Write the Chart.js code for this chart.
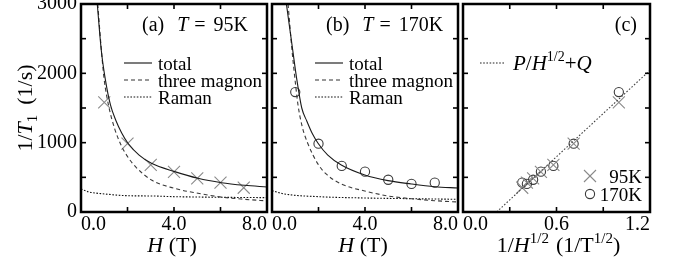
<!DOCTYPE html>
<html>
<head>
<meta charset="utf-8">
<script src="https://cdn.jsdelivr.net/npm/chart.js@4.4.1/dist/chart.umd.min.js"></script>
<style>
html,body{margin:0;padding:0;background:#fff;}
#wrap{position:relative;width:689px;height:267px;background:#fff;overflow:hidden;}
canvas{position:absolute;top:0;}
</style>
</head>
<body>
<div id="wrap">
<canvas id="cA" width="270" height="267" style="left:0px"></canvas>
<canvas id="cB" width="192" height="267" style="left:268px"></canvas>
<canvas id="cC" width="229" height="267" style="left:460px"></canvas>
</div>
<script>
// ---------------- data ----------------
const fieldH = [1, 2, 3, 4, 5, 6, 7];                       // T
const invSqrtH = [1.00, 0.71, 0.58, 0.50, 0.45, 0.41, 0.38]; // 1/T^1/2
const rate95 = [1580, 985, 680, 580, 485, 425, 350];         // 1/s
const rate170 = [1730, 985, 665, 582, 465, 405, 423];        // 1/s

const totalA_H = [0.70, 0.87, 1.05, 1.27, 1.5, 1.75, 2.02, 2.5, 3.03, 4.03, 5.03, 6.04, 7.04, 8.0];
const totalA_v = [3000, 2340, 1905, 1540, 1320, 1140, 991, 820, 702, 582, 486, 423, 385, 360];
const magA_H = [0.72, 0.86, 0.99, 1.19, 1.45, 1.73, 2.02, 2.38, 3.03, 4.03, 5.03, 6.04, 7.04, 8.0];
const magA_v = [3000, 2400, 1930, 1530, 1200, 960, 790, 640, 462, 340, 270, 215, 183, 160];
const ramA_H = [0, 0.3, 1.02, 2.02, 3.03, 4.03, 5.0, 6.0, 8.0];
const ramA_v = [332, 293, 260, 235, 231, 221, 216, 212, 207];

const totalB_H = [0.62, 0.89, 1.07, 1.28, 1.5, 1.75, 1.98, 2.4, 2.98, 3.99, 4.99, 5.99, 7.0, 8.0];
const totalB_v = [3000, 2338, 1905, 1500, 1310, 1120, 991, 820, 678, 534, 452, 404, 365, 346];
const magB_H = [0.69, 0.87, 1.0, 1.12, 1.3, 1.55, 1.98, 2.34, 2.98, 3.99, 4.99, 6.0, 7.0, 8.0];
const magB_v = [3000, 2300, 1880, 1540, 1230, 980, 690, 545, 404, 303, 231, 192, 163, 144];
const ramB_H = [0, 0.54, 2.0, 4.0, 6.0, 8.0];
const ramB_v = [307, 260, 221, 202, 192, 183];

const fitC_x = [0.216, 1.2];
const fitC_v = [0, 2044];

const xTickValsH = [0, 4, 8];
const xTickLabelsH = ['0.0', '4.0', '8.0'];
const xTickValsC = [0, 0.6, 1.2];
const xTickLabelsC = ['0.0', '0.6', '1.2'];
const yTickVals = [0, 1000, 2000, 3000];
const yTickLabels = ['0', '1000', '2000', '3000'];

const legendNames = ['total', 'three magnon', 'Raman'];
const titleA = ['(a)', 'T', '=', '95K'];
const titleB = ['(b)', 'T', '=', '170K'];
const titleC = '(c)';
const markerNames = ['95K', '170K'];

// ---------------- helpers ----------------
const FAM = '"Liberation Serif", "Times New Roman", serif';
const DECO = {};
const CROSS_R = 8.5;
function pts(xs, ys) { return xs.map((x, i) => ({x: x, y: ys[i]})); }
function fnt(p) { return (p.italic ? 'italic ' : '') + (p.size || 20) + 'px ' + FAM; }
function drawRich(ctx, parts, x, y, align) {
  let w = 0;
  parts.forEach(p => { ctx.font = fnt(p); w += (p.gap || 0) + ctx.measureText(p.t).width; });
  let cx = align === 'center' ? x - w / 2 : (align === 'right' ? x - w : x);
  ctx.textAlign = 'left';
  ctx.textBaseline = 'alphabetic';
  parts.forEach(p => {
    cx += (p.gap || 0);
    ctx.font = fnt(p);
    ctx.fillText(p.t, cx, y + (p.dy || 0));
    cx += ctx.measureText(p.t).width;
  });
}
function labelFor(vals, labels) {
  return function (v) {
    for (let i = 0; i < vals.length; i++) if (Math.abs(vals[i] - v) < 1e-6) return labels[i];
    return '';
  };
}
function line(ctx, x1, y1, x2, y2) { ctx.beginPath(); ctx.moveTo(x1, y1); ctx.lineTo(x2, y2); ctx.stroke(); }

const frameTicks = {
  id: 'frameTicks',
  afterDraw(chart) {
    const ctx = chart.ctx, a = chart.chartArea;
    const xs = chart.scales.x, ys = chart.scales.y;
    ctx.save();
    ctx.strokeStyle = '#000';
    ctx.lineWidth = 1.6;
    ctx.setLineDash([]);
    const L = 5;
    xs.ticks.forEach(t => {
      const px = xs.getPixelForValue(t.value);
      if (px <= a.left + 2 || px >= a.right - 2) return;
      line(ctx, px, a.bottom, px, a.bottom - L);
      line(ctx, px, a.top, px, a.top + L);
    });
    ys.ticks.forEach(t => {
      const py = ys.getPixelForValue(t.value);
      if (py <= a.top + 2 || py >= a.bottom - 2) return;
      line(ctx, a.left, py, a.left + L, py);
      line(ctx, a.right, py, a.right - L, py);
    });
    ctx.lineWidth = 2.5;
    ctx.strokeRect(a.left, a.top, a.right - a.left, a.bottom - a.top);
    ctx.fillStyle = '#000';
    const deco = DECO[chart.canvas.id];
    if (deco) deco(ctx, a);
    ctx.restore();
  }
};

function makeChart(id, cfg) {
  DECO[id] = cfg.deco;
  const ctx = document.getElementById(id).getContext('2d');
  return new Chart(ctx, {
    type: 'scatter',
    data: {datasets: cfg.datasets},
    options: {
      responsive: false,
      animation: false,
      events: [],
      layout: {padding: cfg.padding, autoPadding: false},
      plugins: {legend: {display: false}, tooltip: {enabled: false}},
      elements: {line: {tension: 0}},
      scales: {
        x: {
          type: 'linear', position: 'bottom', min: cfg.xMin, max: cfg.xMax,
          grid: {display: false, drawTicks: false}, border: {display: false},
          ticks: {stepSize: cfg.xStep, autoSkip: false, maxRotation: 0, minRotation: 0, align: 'inner',
            padding: 1, color: '#000', font: {family: FAM, size: 20},
            callback: labelFor(cfg.xVals, cfg.xLabels)},
          afterFit: s => { s.height = 55; s.paddingLeft = 0; s.paddingRight = 0; }
        },
        y: {
          type: 'linear', position: 'left', min: 0, max: 3000,
          grid: {display: false, drawTicks: false}, border: {display: false},
          ticks: {stepSize: 500, autoSkip: false, display: cfg.yLabels, padding: 4, color: '#000',
            font: {family: FAM, size: 20},
            callback: labelFor(yTickVals, yTickLabels)},
          afterFit: s => { s.width = cfg.yWidth; s.paddingTop = 0; s.paddingBottom = 0; }
        }
      }
    },
    plugins: [frameTicks]
  });
}

function curveSet(xs, ys, dash, color, w) {
  return {data: pts(xs, ys), showLine: true, pointRadius: 0, borderColor: color, borderWidth: w,
    borderDash: dash, fill: false, cubicInterpolationMode: 'monotone'};
}
function crossSet(xs, ys) {
  return {data: pts(xs, ys), showLine: false, pointStyle: 'crossRot', pointRadius: CROSS_R,
    borderColor: '#8a8a8a', borderWidth: 1.1, backgroundColor: 'rgba(0,0,0,0)'};
}
function circleSet(xs, ys) {
  return {data: pts(xs, ys), showLine: false, pointStyle: 'circle', pointRadius: 4.6,
    borderColor: '#3a3a3a', borderWidth: 1.1, backgroundColor: 'rgba(0,0,0,0)'};
}

function drawTitle(ctx, x, parts) {
  const y = 31;
  drawRich(ctx, [
    {t: parts[0], size: 20},
    {t: parts[1], size: 20, italic: true, gap: 13},
    {t: parts[2], size: 20, gap: 6},
    {t: parts[3], size: 20, gap: 8}
  ], x, y, 'left');
}
function drawCurveLegend(ctx, a) {
  const x1 = a.left + 43, x2 = a.left + 71, tx = a.left + 77;
  const ys = [63, 80, 97];
  const dashes = [[], [4, 3], [1.6, 1.6]];
  const cols = ['#111', '#333', '#111'];
  ys.forEach((y, i) => {
    ctx.save();
    ctx.strokeStyle = cols[i]; ctx.lineWidth = 1.1; ctx.setLineDash(dashes[i]);
    line(ctx, x1, y, x2, y);
    ctx.restore();
    drawRich(ctx, [{t: legendNames[i], size: 19}], tx, y + 6.5, 'left');
  });
}
function drawHTitle(ctx, a) {
  drawRich(ctx, [{t: 'H', italic: true, size: 22}, {t: ' (T)', size: 22}], (a.left + a.right) / 2 - 2, 252, 'center');
}

// ---------------- panel (a) ----------------
makeChart('cA', {
  xMin: 0, xMax: 8, xStep: 2, xVals: xTickValsH, xLabels: xTickLabelsH,
  yLabels: true, yWidth: 81, padding: {left: 0, right: 3, top: 4, bottom: 0},
  datasets: [
    curveSet(totalA_H, totalA_v, [], '#1a1a1a', 1.1),
    curveSet(magA_H, magA_v, [4, 3], '#3a3a3a', 1.1),
    curveSet(ramA_H, ramA_v, [1.6, 1.6], '#111', 1.1),
    crossSet(fieldH, rate95)
  ],
  deco: (ctx, a) => {
    drawTitle(ctx, a.left + 61, titleA);
    drawCurveLegend(ctx, a);
    drawHTitle(ctx, a);
    ctx.save();
    ctx.translate(25, 108);
    ctx.rotate(-Math.PI / 2);
    drawRich(ctx, [
      {t: '1/', size: 22}, {t: 'T', italic: true, size: 22}, {t: '1', size: 15, dy: 5},
      {t: '(1/s)', size: 22, gap: 10}
    ], 0, 7, 'center');
    ctx.restore();
  }
});

// ---------------- panel (b) ----------------
makeChart('cB', {
  xMin: 0, xMax: 8, xStep: 2, xVals: xTickValsH, xLabels: xTickLabelsH,
  yLabels: false, yWidth: 4, padding: {left: 0, right: 2, top: 4, bottom: 0},
  datasets: [
    curveSet(totalB_H, totalB_v, [], '#1a1a1a', 1.1),
    curveSet(magB_H, magB_v, [4, 3], '#3a3a3a', 1.1),
    curveSet(ramB_H, ramB_v, [1.6, 1.6], '#111', 1.1),
    circleSet(fieldH, rate170)
  ],
  deco: (ctx, a) => {
    drawTitle(ctx, a.left + 54, titleB);
    drawCurveLegend(ctx, a);
    drawHTitle(ctx, a);
  }
});

// ---------------- panel (c) ----------------
makeChart('cC', {
  xMin: 0, xMax: 1.2, xStep: 0.3, xVals: xTickValsC, xLabels: xTickLabelsC,
  yLabels: false, yWidth: 3, padding: {left: 0, right: 39, top: 4, bottom: 0},
  datasets: [
    curveSet(fitC_x, fitC_v, [1.6, 1.8], '#444', 1.1),
    crossSet(invSqrtH, rate95),
    circleSet(invSqrtH, rate170)
  ],
  deco: (ctx, a) => {
    drawRich(ctx, [{t: titleC, size: 20}], a.right - 13, 31, 'right');
    ctx.save();
    ctx.strokeStyle = '#222'; ctx.lineWidth = 1.1; ctx.setLineDash([1.6, 1.6]);
    line(ctx, a.left + 17, 63, a.left + 42, 63);
    ctx.restore();
    drawRich(ctx, [
      {t: 'P', italic: true, size: 21}, {t: '/', size: 21}, {t: 'H', italic: true, size: 21},
      {t: '1/2', size: 14, dy: -9}, {t: '+', size: 21}, {t: 'Q', italic: true, size: 21}
    ], a.left + 50, 70, 'left');
    const mx = a.left + 127;
    ctx.save();
    ctx.strokeStyle = '#8a8a8a'; ctx.lineWidth = 1.1;
    const r = CROSS_R * Math.SQRT1_2;
    line(ctx, mx - r, 176 - r, mx + r, 176 + r);
    line(ctx, mx - r, 176 + r, mx + r, 176 - r);
    ctx.strokeStyle = '#3a3a3a';
    ctx.beginPath(); ctx.arc(mx, 194, 4.6, 0, Math.PI * 2); ctx.stroke();
    ctx.restore();
    drawRich(ctx, [{t: markerNames[0], size: 19}], a.left + 179, 182.5, 'right');
    drawRich(ctx, [{t: markerNames[1], size: 19}], a.left + 179, 200.5, 'right');
    drawRich(ctx, [
      {t: '1/', size: 22}, {t: 'H', italic: true, size: 22}, {t: '1/2', size: 15, dy: -9},
      {t: '(1/T', size: 22, gap: 7}, {t: '1/2', size: 15, dy: -9}, {t: ')', size: 22}
    ], (a.left + a.right) / 2 + 2, 252, 'center');
  }
});
</script>
</body>
</html>
